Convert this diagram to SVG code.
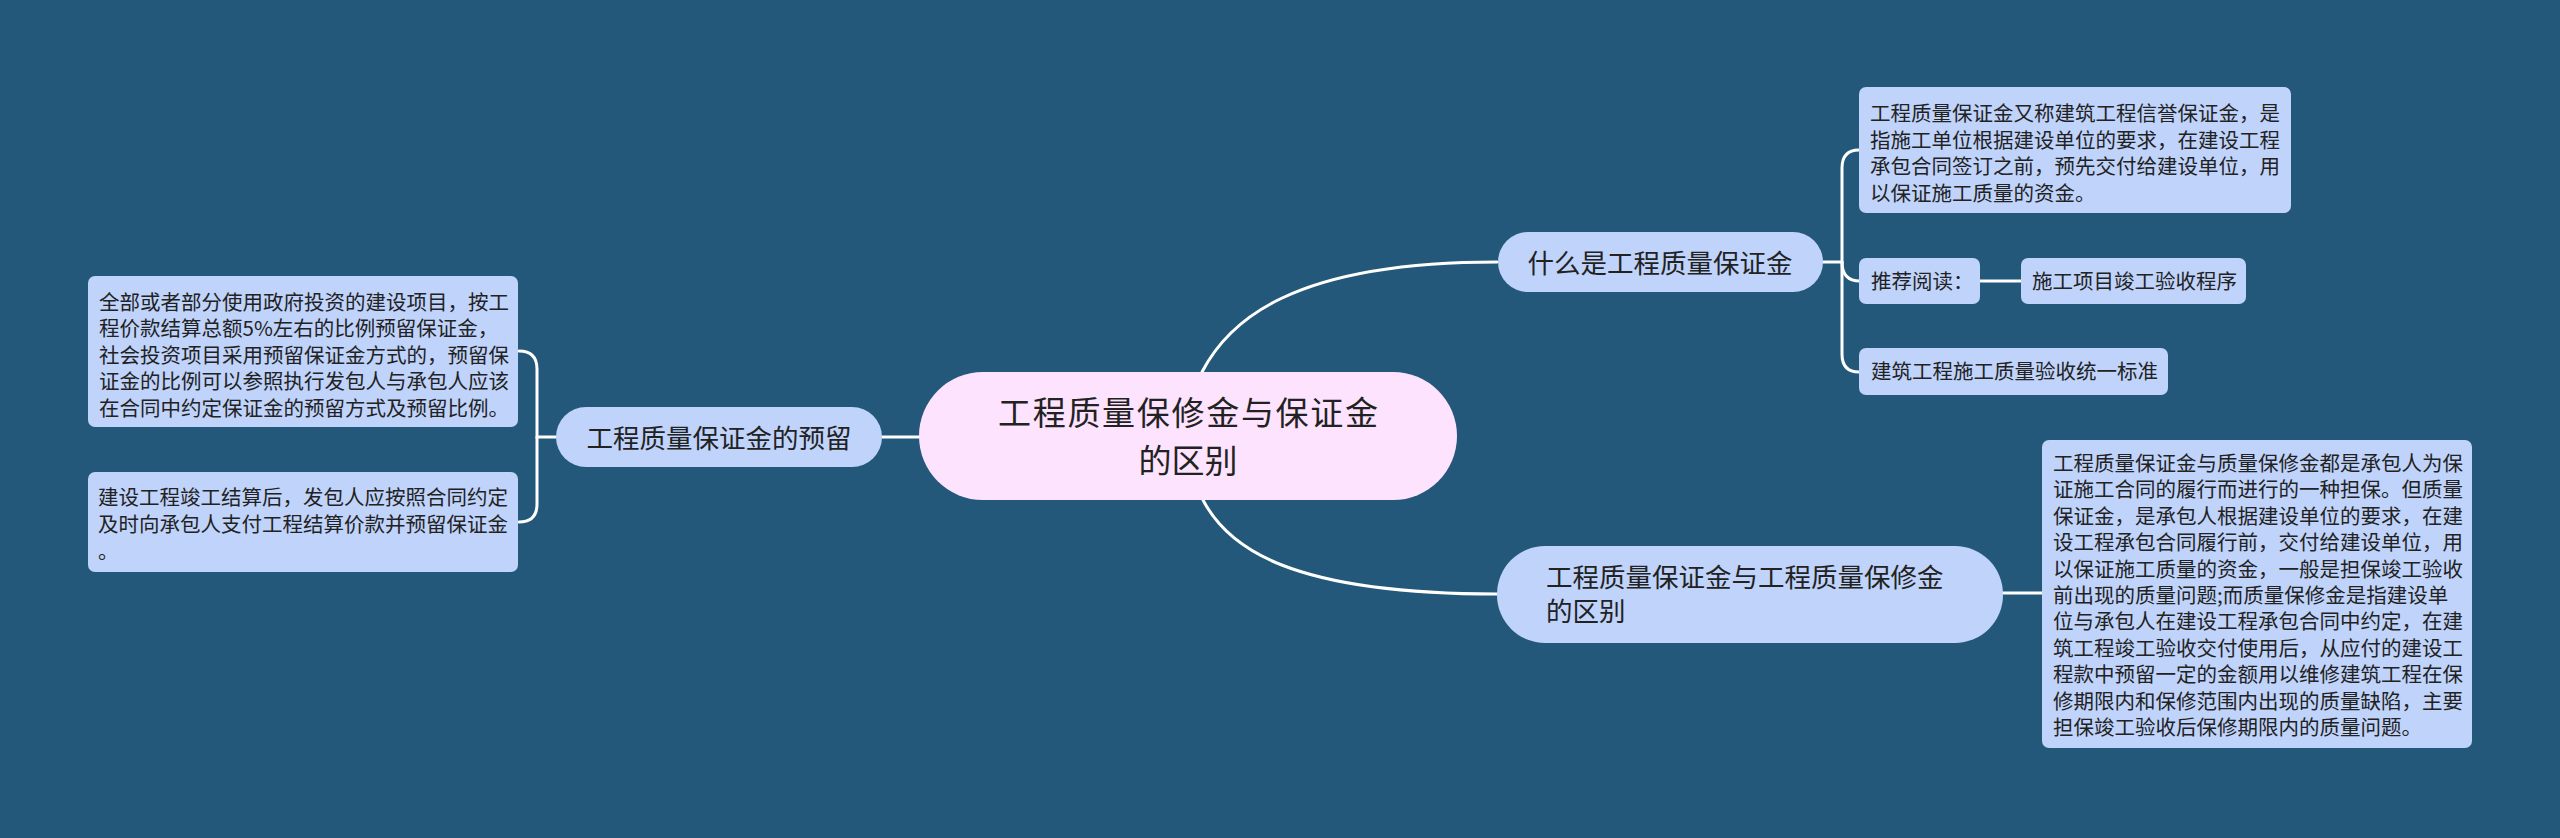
<svg xmlns="http://www.w3.org/2000/svg" width="2560" height="838" viewBox="0 0 2560 838">
<style>
.bg{fill:#23587b}
.box{fill:#bfd3fb}
.pill{fill:#bfd3fb}
.root{fill:#fde3fd}
.t{font-family:"Noto Sans CJK SC","Noto Sans",sans-serif;fill:#222}
.s{font-size:20.5px}
.m{font-size:26.5px}
.l{font-size:33px}
.c{fill:none;stroke:#ffffff;stroke-width:3;stroke-linecap:round}
</style>
<rect class="bg" x="0" y="0" width="2560" height="838"/>
<g id="connectors">
<path class="c" d="M1202,372 C1228,322 1290,262 1497,262"/>
<path class="c" d="M1203,500 C1228,548 1290,594 1497,594"/>
<path class="c" d="M919,437 L882,437"/>
<path class="c" d="M1822,262 H1842 V168 Q1842,150 1859,150"/>
<path class="c" d="M1842,262 Q1842,281 1860,281"/>
<path class="c" d="M1842,262 V354 Q1842,372 1859,372"/>
<path class="c" d="M1980,281 H2021"/>
<path class="c" d="M2002,593 H2042"/>
<path class="c" d="M556,437 H537 V369 Q537,351 519,351"/>
<path class="c" d="M537,437 V504 Q537,522 519,522"/>
</g>
<g id="root">
<rect class="root" x="919" y="372" width="538" height="128" rx="64"/>
<text class="t l" text-anchor="middle"><tspan x="1188" y="425" textLength="380" lengthAdjust="spacing">工程质量保修金与保证金</tspan><tspan x="1188" y="473">的区别</tspan></text>
</g>
<g id="n-what">
<rect class="pill" x="1498" y="232" width="325" height="60" rx="30"/>
<text class="t m" x="1660" y="273" text-anchor="middle">什么是工程质量保证金</text>
</g>
<g id="n-what-def">
<rect class="box" x="1859" y="87" width="432" height="126" rx="7"/>
<text class="t s" x="1870" y="121">工程质量保证金又称建筑工程信誉保证金，是</text>
<text class="t s" x="1870" y="147.7">指施工单位根据建设单位的要求，在建设工程</text>
<text class="t s" x="1870" y="174.4">承包合同签订之前，预先交付给建设单位，用</text>
<text class="t s" x="1870" y="201">以保证施工质量的资金。</text>
</g>
<g id="n-recommend">
<rect class="box" x="1859" y="258" width="121" height="46" rx="7"/>
<text class="t s" x="1871" y="288.5">推荐阅读：</text>
</g>
<g id="n-procedure">
<rect class="box" x="2021" y="258" width="225" height="46" rx="7"/>
<text class="t s" x="2032" y="288.5">施工项目竣工验收程序</text>
</g>
<g id="n-standard">
<rect class="box" x="1859" y="348" width="309" height="47" rx="7"/>
<text class="t s" x="1871" y="379">建筑工程施工质量验收统一标准</text>
</g>
<g id="n-diff">
<rect class="pill" x="1497" y="546" width="506" height="97" rx="48"/>
<text class="t m"><tspan x="1546" y="587">工程质量保证金与工程质量保修金</tspan><tspan x="1546" y="621">的区别</tspan></text>
</g>
<g id="n-diff-def">
<rect class="box" x="2042" y="440" width="430" height="308" rx="7"/>
<text class="t s" x="2053" y="471">工程质量保证金与质量保修金都是承包人为保</text>
<text class="t s" x="2053" y="497.4">证施工合同的履行而进行的一种担保。但质量</text>
<text class="t s" x="2053" y="523.8">保证金，是承包人根据建设单位的要求，在建</text>
<text class="t s" x="2053" y="550.2">设工程承包合同履行前，交付给建设单位，用</text>
<text class="t s" x="2053" y="576.6">以保证施工质量的资金，一般是担保竣工验收</text>
<text class="t s" x="2053" y="603">前出现的质量问题;而质量保修金是指建设单</text>
<text class="t s" x="2053" y="629.4">位与承包人在建设工程承包合同中约定，在建</text>
<text class="t s" x="2053" y="655.8">筑工程竣工验收交付使用后，从应付的建设工</text>
<text class="t s" x="2053" y="682.2">程款中预留一定的金额用以维修建筑工程在保</text>
<text class="t s" x="2053" y="708.6">修期限内和保修范围内出现的质量缺陷，主要</text>
<text class="t s" x="2053" y="735">担保竣工验收后保修期限内的质量问题。</text>
</g>
<g id="n-retain">
<rect class="pill" x="556" y="407" width="326" height="60" rx="30"/>
<text class="t m" x="719" y="447.5" text-anchor="middle">工程质量保证金的预留</text>
</g>
<g id="n-retain-a">
<rect class="box" x="88" y="276" width="430" height="151" rx="7"/>
<text class="t s" x="99" y="309.6">全部或者部分使用政府投资的建设项目，按工</text>
<text class="t s" x="99" y="336.1">程价款结算总额5%左右的比例预留保证金，</text>
<text class="t s" x="99" y="362.6">社会投资项目采用预留保证金方式的，预留保</text>
<text class="t s" x="99" y="389.1">证金的比例可以参照执行发包人与承包人应该</text>
<text class="t s" x="99" y="415.6">在合同中约定保证金的预留方式及预留比例。</text>
</g>
<g id="n-retain-b">
<rect class="box" x="88" y="472" width="430" height="100" rx="7"/>
<text class="t s" x="98" y="504.6">建设工程竣工结算后，发包人应按照合同约定</text>
<text class="t s" x="98" y="531.6">及时向承包人支付工程结算价款并预留保证金</text>
<text class="t s" x="98" y="558.6">。</text>
</g>
</svg>
